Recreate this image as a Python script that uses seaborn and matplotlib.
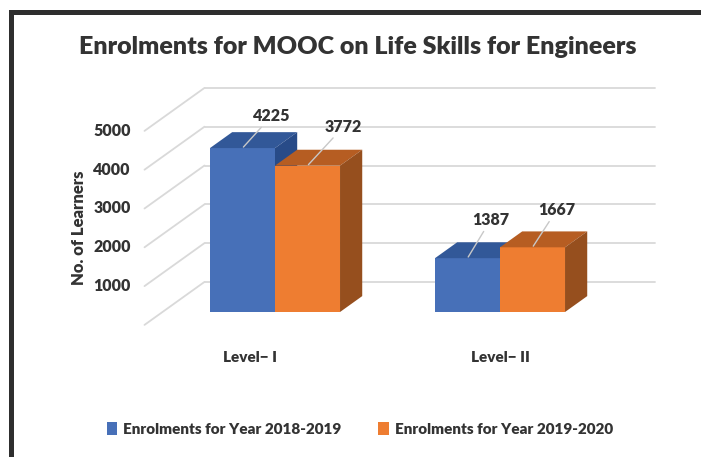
import matplotlib
matplotlib.use("Agg")
import matplotlib.pyplot as plt
from matplotlib.patches import Polygon, Patch
from matplotlib.lines import Line2D
import seaborn as sns
import pandas as pd

# chart data
levels = ["Level\u2212 I", "Level\u2212 II"]
series = ["Enrolments for Year 2018-2019", "Enrolments for Year 2019-2020"]
year_2018_19 = [4225, 1387]
year_2019_20 = [3772, 1667]
y_ticks = [0, 1000, 2000, 3000, 4000, 5000]
y_tick_labels = ["", "1000", "2000", "3000", "4000", "5000"]

df = pd.DataFrame({
    "Level": levels * 2,
    "Series": [series[0]] * 2 + [series[1]] * 2,
    "Learners": year_2018_19 + year_2019_20,
})

front_colors = ["#4770B8", "#EE7D31"]
top_colors = ["#325898", "#B65D22"]
side_colors = ["#284B88", "#964F1E"]
text_color = "#333333"
grid_color = "#d9d9d9"

sns.set_style("white")
plt.rcParams["font.family"] = ["Lato", "DejaVu Sans"]
plt.rcParams["font.weight"] = "heavy"

W, H = 701, 457
fig = plt.figure(figsize=(W / 100, H / 100), dpi=100)
ax = fig.add_axes([0, 0, 1, 1])

# pixel scale of the plot (front plane of the bars)
PX_X = 225.0      # px per category
PX_Y = 0.0388     # px per learner
X0_PX, Y0_PX = 275, 312

# oblique depth direction (full depth of the floor), in data units
DX = 60 / PX_X
DY = 43 / PX_Y
BAR_D0 = 0.3      # depth of bar front
BAR_DEPTH = 0.37


def shift(x, y, d):
    return x + (d - BAR_D0) * DX, y + (d - BAR_D0) * DY


sns.barplot(data=df, x="Level", y="Learners", hue="Series",
            palette=front_colors, saturation=1, width=0.578,
            legend=False, ax=ax, linewidth=0)

ax.set_xlim(-X0_PX / PX_X, (W - X0_PX) / PX_X)
ax.set_ylim((Y0_PX - H) / PX_Y, Y0_PX / PX_Y)
ax.axis("off")

# walls: back gridlines and left-side diagonals
for v, lab in zip(y_ticks, y_tick_labels):
    bx0, by0 = shift(-0.5, v, 1)
    bx1, by1 = shift(1.5, v, 1)
    ax.plot([bx0, bx1], [by0, by1], color=grid_color, lw=1.3, zorder=1)
    fx, fy = shift(-0.5, v, 0)
    ax.plot([fx, bx0], [fy, by0], color=grid_color, lw=1.3, zorder=1)
    ax.annotate(lab, xy=(fx, fy), xytext=(-14, 0), textcoords="offset pixels",
                ha="right", va="center", fontsize=11.5, color=text_color)

# 3D faces for the bars
bars = list(ax.patches)
bdx, bdy = BAR_DEPTH * DX, BAR_DEPTH * DY
label_offsets = [[(29, 32), (23, 38)], [(36, 39), (24, 37)]]
values = [year_2018_19, year_2019_20]
for i, p in enumerate(bars):
    s, c = divmod(i, len(levels))
    x0, w, h = p.get_x(), p.get_width(), p.get_height()
    z = 3 + x0
    p.set_zorder(z)
    top = Polygon([(x0, h), (x0 + w, h), (x0 + w + bdx, h + bdy), (x0 + bdx, h + bdy)],
                  closed=True, facecolor=top_colors[s], edgecolor="none", zorder=z)
    side = Polygon([(x0 + w, 0), (x0 + w, h), (x0 + w + bdx, h + bdy), (x0 + w + bdx, bdy)],
                   closed=True, facecolor=side_colors[s], edgecolor="none", zorder=z)
    ax.add_patch(top)
    ax.add_patch(side)
    ox, oy = label_offsets[s][c]
    ax.annotate(str(values[s][c]), xy=(x0 + w / 2, h), xytext=(ox, oy),
                textcoords="offset pixels", ha="center", va="center",
                fontsize=11.5, color=text_color, zorder=10,
                arrowprops=dict(arrowstyle="-", color="#c8c8c8", lw=1,
                                shrinkA=0, shrinkB=1))

# category labels
cat_offsets = [-25, 0]
for i, lev in enumerate(levels):
    ax.annotate(lev, xy=(i, 0), xytext=(cat_offsets[i], -45), textcoords="offset pixels",
                ha="center", va="center", fontsize=11, color=text_color)

fig.text(358 / W, 1 - 47 / H, "Enrolments for MOOC on Life Skills for Engineers",
         ha="center", va="center", fontsize=18, color=text_color)
fig.text(79 / W, 1 - 228 / H, "No. of Learners", rotation=90,
         ha="center", va="center", fontsize=12, color=text_color)

handles = [Patch(facecolor=col, edgecolor="none") for col in front_colors]
fig.legend(handles, series, loc="center", bbox_to_anchor=(360 / W, 1 - 429 / H),
           ncol=2, frameon=False, fontsize=11, handlelength=0.7, handleheight=0.9,
           handletextpad=0.4, columnspacing=2.4, labelcolor=text_color)

# outer frame (left and top edges)
fig.add_artist(Line2D([10.5 / W, 10.5 / W, 1.01], [-0.01, 1 - 12 / H, 1 - 12 / H],
                      transform=fig.transFigure, color="#2e2e2e", lw=3.6,
                      solid_joinstyle="miter"))

fig.savefig("out.png", dpi=100, facecolor="white")
